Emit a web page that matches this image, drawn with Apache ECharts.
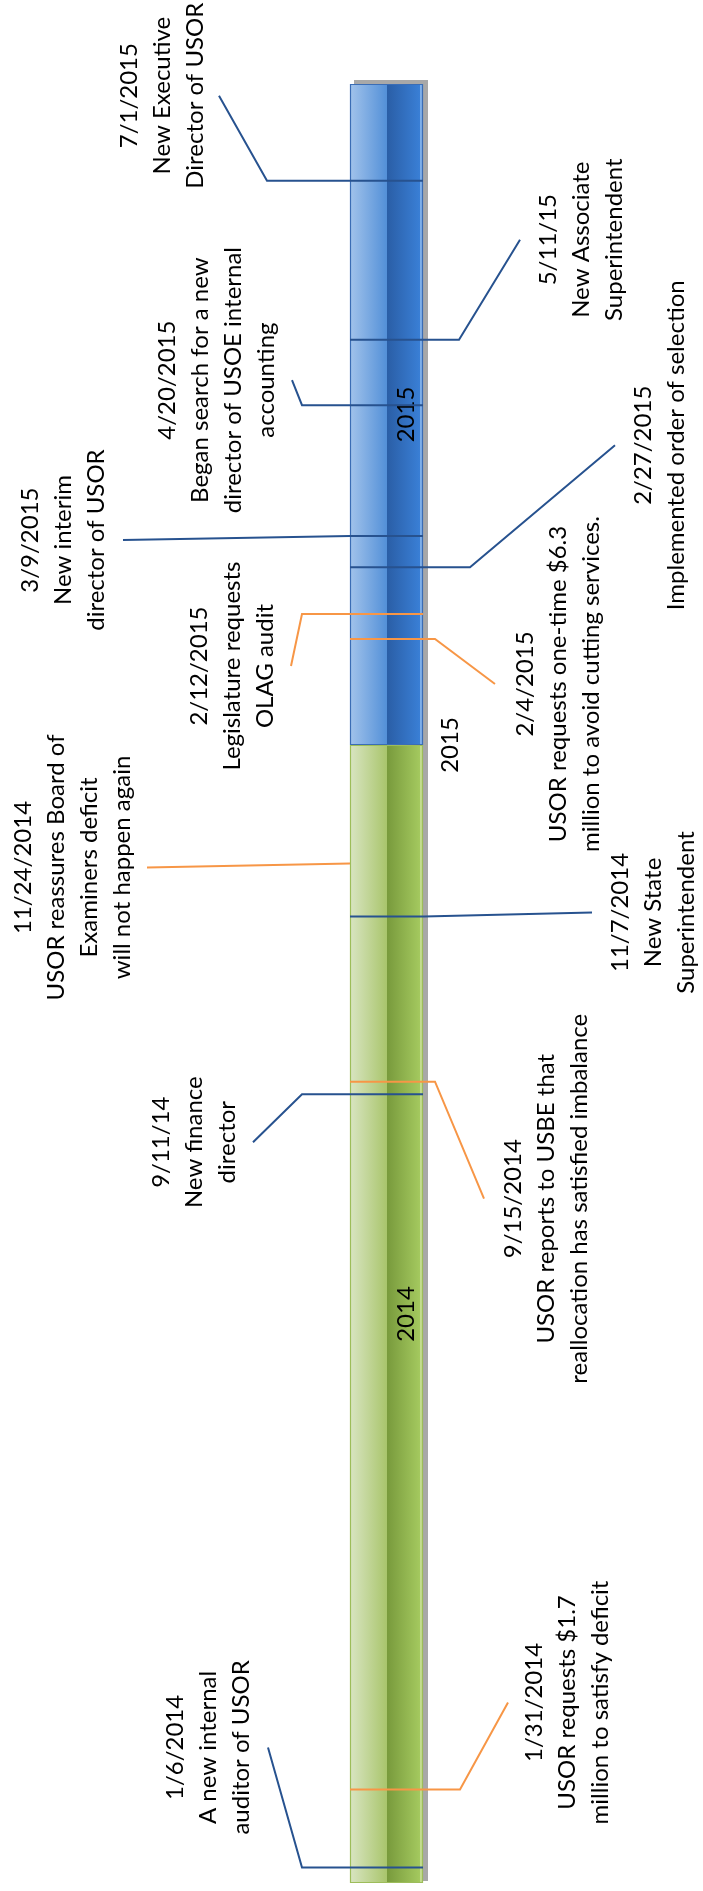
<!DOCTYPE html>
<html>
<head>
<meta charset="utf-8">
<script src="https://cdn.jsdelivr.net/npm/echarts@6/dist/echarts.min.js"></script>
<style>
html,body{margin:0;padding:0;background:#fff;}
#chart{width:703px;height:1891px;}
</style>
</head>
<body>
<div id="chart"></div>
<script>
// ---------- DATA ----------
const axisStart = '2014-01-01';
const axisEnd = '2015-08-01';

const yearStarts = ['2014-01-01', '2015-01-01'];
const yearEnds = ['2015-01-01', '2015-08-01'];
const yearLabels = ['2014', '2015'];

const tickDates = ['2015-01-01'];
const tickLabels = ['2015'];

const eventDates = [
  '2014-01-06', '2014-01-31', '2014-09-11', '2014-09-15', '2014-11-07',
  '2014-11-24', '2015-02-04', '2015-02-12', '2015-02-27', '2015-03-09',
  '2015-04-20', '2015-05-11', '2015-07-01'
];
const eventTexts = [
  '1/6/2014\nA new internal\nauditor of USOR',
  '1/31/2014\nUSOR requests $1.7\nmillion to satisfy deficit',
  '9/11/14\nNew finance\ndirector',
  '9/15/2014\nUSOR reports to USBE that\nreallocation has satisfied imbalance',
  '11/7/2014\nNew State\nSuperintendent',
  '11/24/2014\nUSOR reassures Board of\nExaminers deficit\nwill not happen again',
  '2/4/2015\nUSOR requests one-time $6.3\nmillion to avoid cutting services.',
  '2/12/2015\nLegislature requests\nOLAG audit',
  '2/27/2015\nImplemented order of selection',
  '3/9/2015\nNew interim\ndirector of USOR',
  '4/20/2015\nBegan search for a new\ndirector of USOE internal\naccounting',
  '5/11/15\nNew Associate\nSuperintendent',
  '7/1/2015\nNew Executive\nDirector of USOR'
];
// 'staff' = blue marker, 'budget' = orange marker
const eventKinds = [
  'staff', 'budget', 'staff', 'budget', 'staff',
  'budget', 'budget', 'budget', 'staff', 'staff',
  'staff', 'staff', 'staff'
];

// ---------- LAYOUT / STYLE (not data) ----------
const BAR_X0 = 350, BAR_MID = 387, BAR_X1 = 423;
// side: text side; cross: leader crosses the bar; elbowX, endX in x-axis units; endDy pixel offset; labelX block centre
const eventLayout = [
  {side: 'L', cross: true,  elbowX: 302, endX: 268, endDy: -120, labelX: 208},
  {side: 'R', cross: true,  elbowX: 460, endX: 508, endDy: -87,  labelX: 567},
  {side: 'L', cross: true,  elbowX: 302, endX: 253, endDy: 48,   labelX: 194},
  {side: 'R', cross: true,  elbowX: 435, endX: 484, endDy: 117,  labelX: 546},
  {side: 'R', cross: true,  elbowX: 424, endX: 592, endDy: -4,   labelX: 653},
  {side: 'L', cross: false, elbowX: 350, endX: 147, endDy: 4,    labelX: 73},
  {side: 'R', cross: true,  elbowX: 435, endX: 495, endDy: 45,   labelX: 558},
  {side: 'L', cross: true,  elbowX: 302, endX: 291, endDy: 52,   labelX: 232},
  {side: 'R', cross: true,  elbowX: 470, endX: 615, endDy: -122, labelX: 660},
  {side: 'L', cross: true,  elbowX: 350, endX: 123, endDy: 4,    labelX: 63},
  {side: 'L', cross: true,  elbowX: 302, endX: 292, endDy: -25,  labelX: 217},
  {side: 'R', cross: true,  elbowX: 459, endX: 520, endDy: -100, labelX: 581},
  {side: 'L', cross: true,  elbowX: 267, endX: 219, endDy: -85,  labelX: 162}
];
const kindColor = {staff: '#27528f', budget: '#f79646'};
const FONT = '24px Lato';
const LINE_H = 33;

const segStyle = [
  { // 2014 green
    left: ['#d9e5c2', '#a9c56c'], right: ['#789a3c', '#a8cd62'], edge: '#c3dd8f', border: '#9dbd5a'
  },
  { // 2015 blue
    left: ['#a2c3eb', '#5390d8'], right: ['#2a5ea6', '#3b82da'], edge: '#7fb0ea', border: '#3b6db5'
  }
];

function t(s) { return new Date(s + 'T00:00:00').getTime(); }

const chart = echarts.init(document.getElementById('chart'), null, {renderer: 'canvas'});

function lg(c0, c1) {
  return new echarts.graphic.LinearGradient(0, 0, 1, 0, [{offset: 0, color: c0}, {offset: 1, color: c1}]);
}

const option = {
  animation: false,
  backgroundColor: '#ffffff',
  grid: {left: 0, right: 0, top: 84, bottom: 8},
  xAxis: {type: 'value', min: 0, max: 703, show: false},
  yAxis: {type: 'time', min: t(axisStart), max: t(axisEnd), show: false},
  series: [
    { // shadow frame behind the bar
      type: 'custom', clip: false, z: 1,
      data: [[BAR_X0, t(axisStart), t(axisEnd)]],
      encode: {x: 0, y: [1, 2]},
      renderItem: function (params, api) {
        const pb = api.coord([BAR_X0, t(axisStart)]);
        const pt = api.coord([BAR_X1, t(axisEnd)]);
        return {
          type: 'rect',
          shape: {x: pb[0] + 4, y: pt[1] - 4, width: pt[0] - pb[0] + 1, height: pb[1] - pt[1] + 2},
          style: {fill: '#a8a8a8'}
        };
      }
    },
    { // year segments of the bar
      type: 'custom', clip: false, z: 2,
      data: yearStarts.map((s, i) => [BAR_X0, t(s), t(yearEnds[i])]),
      encode: {x: 0, y: [1, 2]},
      renderItem: function (params, api) {
        const i = params.dataIndex;
        const st = segStyle[i];
        const a = api.coord([BAR_X0, t(yearStarts[i])]);
        const b = api.coord([BAR_X1, t(yearEnds[i])]);
        const m = api.coord([BAR_MID, t(yearStarts[i])]);
        const y0 = b[1], h = a[1] - b[1];
        const x0 = a[0], xm = m[0], x1 = b[0];
        return {
          type: 'group',
          children: [
            {type: 'rect', shape: {x: x0, y: y0, width: xm - x0, height: h}, style: {fill: lg(st.left[0], st.left[1])}},
            {type: 'rect', shape: {x: xm, y: y0, width: x1 - xm, height: h}, style: {fill: lg(st.right[0], st.right[1])}},
            {type: 'rect', shape: {x: x1 - 3, y: y0, width: 2, height: h}, style: {fill: st.edge}},
            {type: 'rect', shape: {x: x0 + 0.5, y: y0 + 0.5, width: x1 - x0 - 1, height: h - 1},
              style: {fill: null, stroke: st.border, lineWidth: 1.2}},
            {type: 'text', x: (xm + x1) / 2 + 1, y: y0 + h / 2, rotation: Math.PI / 2,
              style: {text: yearLabels[i], font: FONT, fill: '#000', align: 'center', verticalAlign: 'middle'}}
          ]
        };
      }
    },
    { // axis tick labels beside the bar
      type: 'custom', clip: false, z: 3,
      data: tickDates.map(d => [BAR_X1, t(d)]),
      encode: {x: 0, y: 1},
      renderItem: function (params, api) {
        const p = api.coord([BAR_X1, t(tickDates[params.dataIndex])]);
        return {
          type: 'text', x: p[0] + 27, y: p[1], rotation: Math.PI / 2,
          style: {text: tickLabels[params.dataIndex], font: FONT, fill: '#000', align: 'center', verticalAlign: 'middle'}
        };
      }
    },
    { // events
      type: 'custom', clip: false, z: 5,
      data: eventDates.map(d => [BAR_X1, t(d)]),
      encode: {x: 0, y: 1},
      renderItem: function (params, api) {
        const i = params.dataIndex;
        const L = eventLayout[i];
        const tv = t(eventDates[i]);
        const y = api.coord([0, tv])[1];
        const X = v => api.coord([v, tv])[0];
        const pts = [];
        if (L.cross) {
          pts.push([X(L.side === 'L' ? BAR_X1 : BAR_X0), y]);
        } else {
          pts.push([X(BAR_X0), y]);
        }
        pts.push([X(L.elbowX), y]);
        const ey = y + L.endDy;
        pts.push([X(L.endX), ey]);
        return {
          type: 'group',
          children: [
            {type: 'polyline', shape: {points: pts},
              style: {stroke: kindColor[eventKinds[i]], lineWidth: 2, fill: null}},
            {type: 'text', x: X(L.labelX), y: ey, rotation: Math.PI / 2,
              style: {text: eventTexts[i], font: FONT, fill: '#000', align: 'center',
                verticalAlign: 'middle', lineHeight: LINE_H}}
          ]
        };
      }
    }
  ]
};
chart.setOption(option);
</script>
</body>
</html>
